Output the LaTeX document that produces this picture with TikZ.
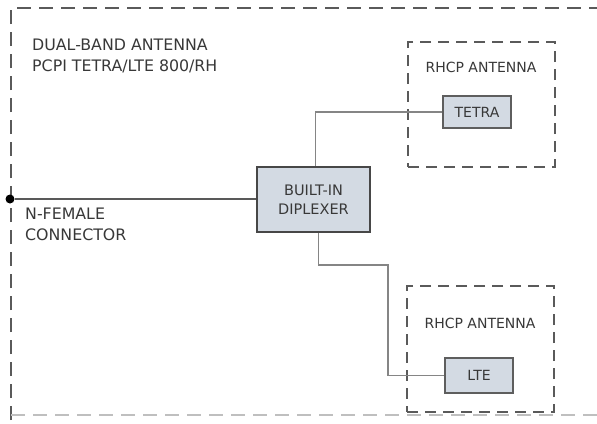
\documentclass[tikz,border=0pt]{standalone}
\usepackage{fontspec}
\setmainfont{DejaVu Sans}
\definecolor{txt}{HTML}{383838}
\definecolor{dashc}{HTML}{5A5A5A}
\definecolor{boxfill}{HTML}{D3DAE3}
\definecolor{boxline}{HTML}{5E5E5E}
\definecolor{wire}{HTML}{858585}
\tikzset{
  biglabel/.style={font=\fontsize{15.8}{21}\selectfont, text=txt, align=left, inner sep=0pt},
  smalllabel/.style={font=\fontsize{14}{17}\selectfont, text=txt, inner sep=0pt},
  unitbox/.style={draw=boxline, line width=1.8pt, fill=boxfill, inner sep=0pt},
  dashbox/.style={draw=dashc, line width=1.6pt, dash pattern=on 11pt off 7pt, inner sep=0pt},
  wireline/.style={draw=wire, line width=1.5pt}
}
\begin{document}
\begin{tikzpicture}[x=1pt,y=-1pt]
\useasboundingbox (0,0) rectangle (597,423);
% outer dashed frame
\draw[draw=dashc, line width=1.6pt, dash pattern=on 14pt off 8pt] (11,420) -- (11,8) -- (600,8);
\draw[draw=black!25, line width=1.2pt, dash pattern=on 14pt off 8pt] (11,415) -- (600,415);
% title
\node[biglabel, anchor=north west] (title) at (32,39) {DUAL-BAND ANTENNA\\PCPI TETRA/LTE 800/RH};
% RHCP boxes
\node[dashbox, minimum width=147pt, minimum height=125pt] (rhcpA) at (481.5,104.5) {};
\node[dashbox, minimum width=147pt, minimum height=126pt] (rhcpB) at (480.5,349) {};
\node[smalllabel] (labA) at (481,67) {RHCP ANTENNA};
\node[smalllabel] (labB) at (480,323) {RHCP ANTENNA};
% units
\node[unitbox, minimum width=68pt, minimum height=32pt, font=\fontsize{14}{17}\selectfont, text=txt] (tetra) at (477,112) {TETRA};
\node[unitbox, minimum width=68pt, minimum height=35pt, font=\fontsize{14}{17}\selectfont, text=txt] (lte) at (479,375.5) {LTE};
\node[unitbox, line width=2.6pt, draw=black!72, minimum width=113pt, minimum height=65pt, align=center, font=\fontsize{14.5}{19}\selectfont, text=txt] (dip) at (313.5,199.5) {BUILT-IN\\DIPLEXER};
% connector
\node[circle, fill=black, inner sep=0pt, minimum size=9pt] (dot) at (10,199) {};
\node[biglabel, anchor=north west] (conn) at (25,208) {N-FEMALE\\CONNECTOR};
% wires
\coordinate (bend) at (388,265);
\draw[draw=black!65, line width=1.3pt] (dot) -- (dip.west |- dot);
\draw[wireline] ([xshift=2pt]dip.north) |- (tetra.west);
\draw[wireline] ([xshift=5pt]dip.south) |- (bend) |- (lte.west);
\end{tikzpicture}
\end{document}
